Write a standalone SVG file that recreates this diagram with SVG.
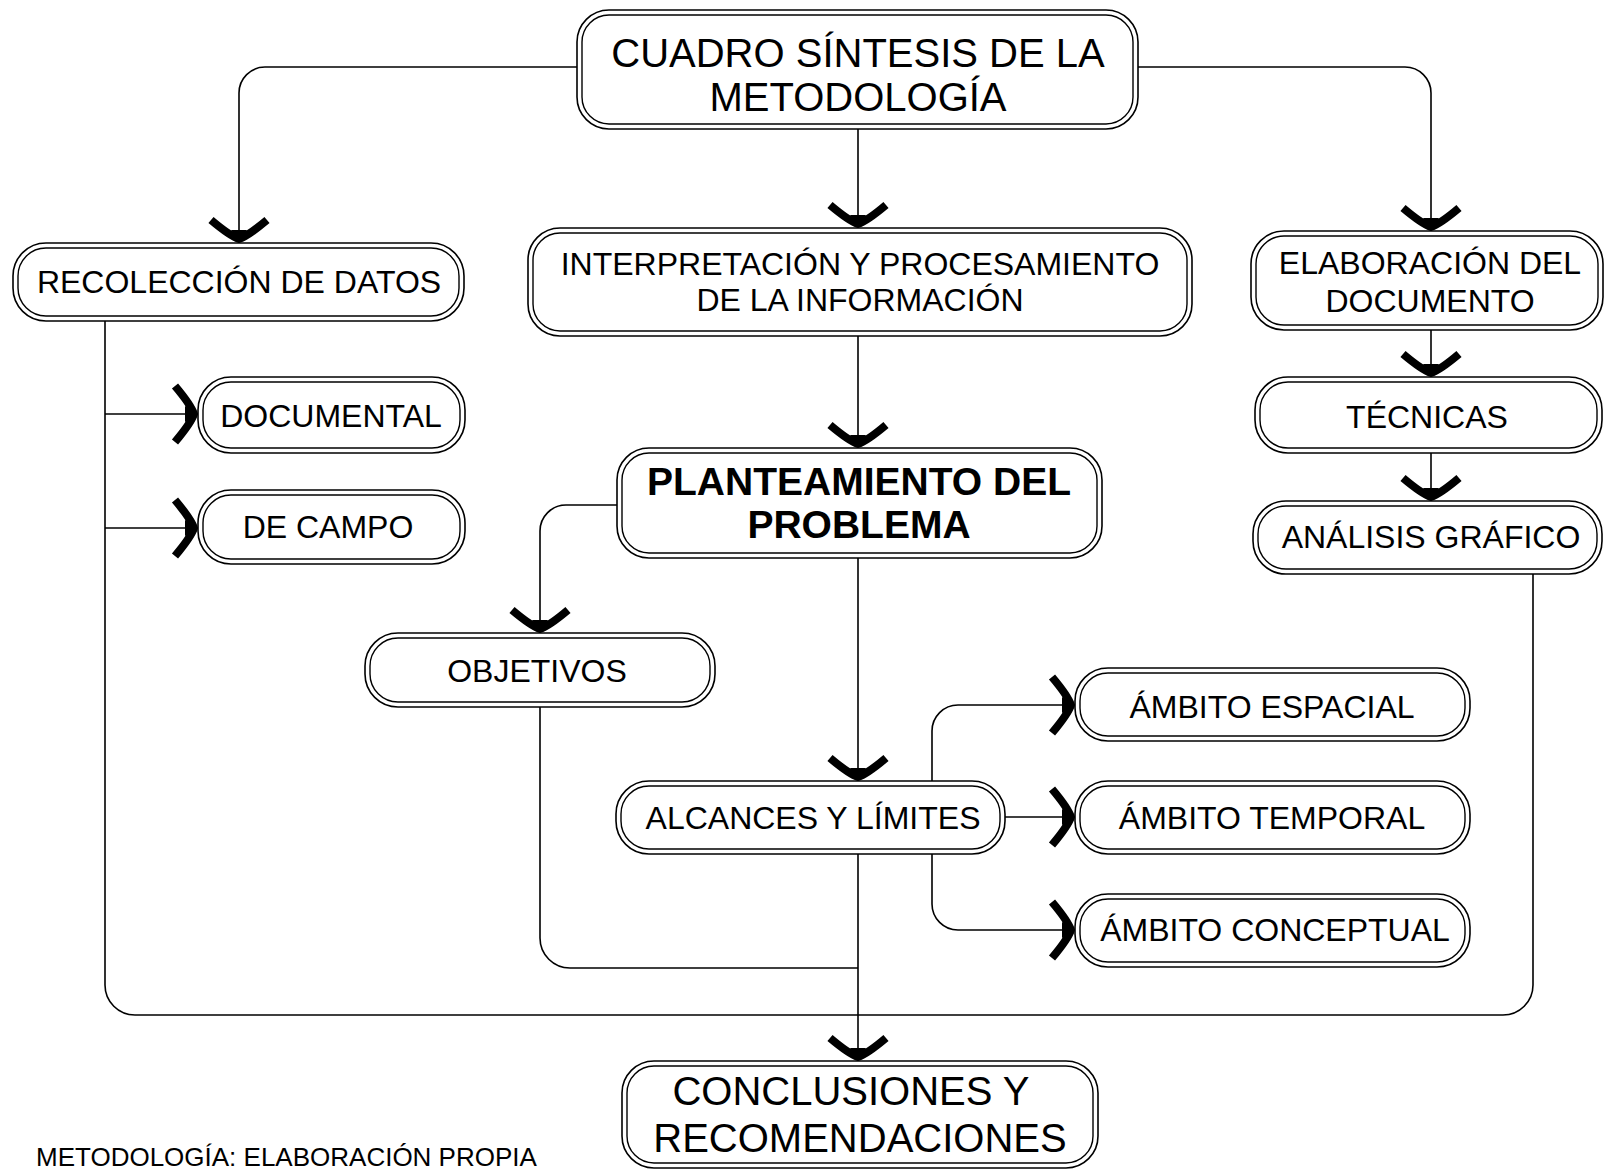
<svg xmlns="http://www.w3.org/2000/svg" width="1608" height="1170" viewBox="0 0 1608 1170">
<style>
  .o { fill:#fff; stroke:#000; stroke-width:1.6; }
  .i { fill:none; stroke:#000; stroke-width:1.4; }
  text { font-family:"Liberation Sans", Arial, sans-serif; fill:#000; text-anchor:middle; }
  .t32 { font-size:32px; }
  .t40 { font-size:40px; }
  .b39 { font-size:39px; font-weight:bold; }
  .cap { font-size:26px; text-anchor:start; }
  #connectors path { fill:none; stroke:#000; stroke-width:1.6; }
</style>
<defs>
  <marker id="ah" viewBox="-32 -34 36 68" refX="0" refY="0" markerWidth="36" markerHeight="68" markerUnits="userSpaceOnUse" orient="auto" overflow="visible">
    <path d="M-23,-28 Q-7,-9 -4,0 Q-7,9 -23,28" fill="none" stroke="#000" stroke-width="8"/>
    <path d="M0,0 L-13,-8 L-13,8 Z" fill="#000"/>
  </marker>
</defs>
<rect width="1608" height="1170" fill="#fff"/>

<g id="connectors">
  <path d="M577,67 H265 A26,26 0 0 0 239,93 V243" marker-end="url(#ah)"/>
  <path d="M858,129 V228" marker-end="url(#ah)"/>
  <path d="M1138,67 H1405 A26,26 0 0 1 1431,93 V231" marker-end="url(#ah)"/>
  <path d="M105,414 H198" marker-end="url(#ah)"/>
  <path d="M105,528 H198" marker-end="url(#ah)"/>
  <path d="M858,336 V448" marker-end="url(#ah)"/>
  <path d="M1431,330 V377" marker-end="url(#ah)"/>
  <path d="M1431,453 V501" marker-end="url(#ah)"/>
  <path d="M617,505 H566 A26,26 0 0 0 540,531 V633" marker-end="url(#ah)"/>
  <path d="M858,558 V781" marker-end="url(#ah)"/>
  <path d="M932,781 V731 A26,26 0 0 1 958,705 H1075" marker-end="url(#ah)"/>
  <path d="M1005,817 H1075" marker-end="url(#ah)"/>
  <path d="M932,854 V904 A26,26 0 0 0 958,930 H1075" marker-end="url(#ah)"/>
  <path d="M105,321 V985 A30,30 0 0 0 135,1015 H1503 A30,30 0 0 0 1533,985 V574"/>
  <path d="M540,707 V938 A30,30 0 0 0 570,968 H858"/>
  <path d="M858,854 V1061" marker-end="url(#ah)"/>
</g>

<g id="n-titulo">
  <rect class="o" x="577" y="10" width="561" height="119" rx="32"/>
  <rect class="i" x="582" y="15" width="551" height="109" rx="27"/>
  <text class="t40" x="858" y="67">CUADRO SÍNTESIS DE LA</text>
  <text class="t40" x="858" y="111">METODOLOGÍA</text>
</g>
<g id="n-recoleccion">
  <rect class="o" x="13" y="243" width="451" height="78" rx="33"/>
  <rect class="i" x="18" y="248" width="441" height="68" rx="28"/>
  <text class="t32" x="239" y="293">RECOLECCIÓN DE DATOS</text>
</g>
<g id="n-documental">
  <rect class="o" x="198" y="377" width="267" height="76" rx="33"/>
  <rect class="i" x="203" y="382" width="257" height="66" rx="28"/>
  <text class="t32" x="331" y="427">DOCUMENTAL</text>
</g>
<g id="n-campo">
  <rect class="o" x="198" y="490" width="267" height="74" rx="33"/>
  <rect class="i" x="203" y="495" width="257" height="64" rx="28"/>
  <text class="t32" x="328" y="538">DE CAMPO</text>
</g>
<g id="n-interpretacion">
  <rect class="o" x="528" y="228" width="664" height="108" rx="32"/>
  <rect class="i" x="533" y="233" width="654" height="98" rx="27"/>
  <text class="t32" x="860" y="275">INTERPRETACIÓN Y PROCESAMIENTO</text>
  <text class="t32" x="860" y="311">DE LA INFORMACIÓN</text>
</g>
<g id="n-elaboracion">
  <rect class="o" x="1251" y="231" width="352" height="99" rx="33"/>
  <rect class="i" x="1256" y="236" width="342" height="89" rx="28"/>
  <text class="t32" x="1430" y="274">ELABORACIÓN DEL</text>
  <text class="t32" x="1430" y="312">DOCUMENTO</text>
</g>
<g id="n-tecnicas">
  <rect class="o" x="1255" y="377" width="347" height="76" rx="33"/>
  <rect class="i" x="1260" y="382" width="337" height="66" rx="28"/>
  <text class="t32" x="1427" y="428">TÉCNICAS</text>
</g>
<g id="n-analisis">
  <rect class="o" x="1253" y="501" width="349" height="73" rx="33"/>
  <rect class="i" x="1258" y="506" width="339" height="63" rx="28"/>
  <text class="t32" x="1431" y="548">ANÁLISIS GRÁFICO</text>
</g>
<g id="n-planteamiento">
  <rect class="o" x="617" y="448" width="485" height="110" rx="32"/>
  <rect class="i" x="622" y="453" width="475" height="100" rx="27"/>
  <text class="b39" x="859" y="495">PLANTEAMIENTO DEL</text>
  <text class="b39" x="859" y="538">PROBLEMA</text>
</g>
<g id="n-objetivos">
  <rect class="o" x="365" y="633" width="350" height="74" rx="33"/>
  <rect class="i" x="370" y="638" width="340" height="64" rx="28"/>
  <text class="t32" x="537" y="682">OBJETIVOS</text>
</g>
<g id="n-alcances">
  <rect class="o" x="616" y="781" width="389" height="73" rx="33"/>
  <rect class="i" x="621" y="786" width="379" height="63" rx="28"/>
  <text class="t32" x="813" y="829">ALCANCES Y LÍMITES</text>
</g>
<g id="n-espacial">
  <rect class="o" x="1075" y="668" width="395" height="73" rx="33"/>
  <rect class="i" x="1080" y="673" width="385" height="63" rx="28"/>
  <text class="t32" x="1272" y="718">ÁMBITO ESPACIAL</text>
</g>
<g id="n-temporal">
  <rect class="o" x="1075" y="781" width="395" height="73" rx="33"/>
  <rect class="i" x="1080" y="786" width="385" height="63" rx="28"/>
  <text class="t32" x="1272" y="829">ÁMBITO TEMPORAL</text>
</g>
<g id="n-conceptual">
  <rect class="o" x="1075" y="894" width="395" height="73" rx="33"/>
  <rect class="i" x="1080" y="899" width="385" height="63" rx="28"/>
  <text class="t32" x="1275" y="941">ÁMBITO CONCEPTUAL</text>
</g>
<g id="n-conclusiones">
  <rect class="o" x="622" y="1061" width="476" height="107" rx="32"/>
  <rect class="i" x="627" y="1066" width="466" height="97" rx="27"/>
  <text class="t40" x="851" y="1105">CONCLUSIONES Y</text>
  <text class="t40" x="860" y="1152">RECOMENDACIONES</text>
</g>
<text class="cap" x="36" y="1166">METODOLOGÍA: ELABORACIÓN PROPIA</text>
</svg>
